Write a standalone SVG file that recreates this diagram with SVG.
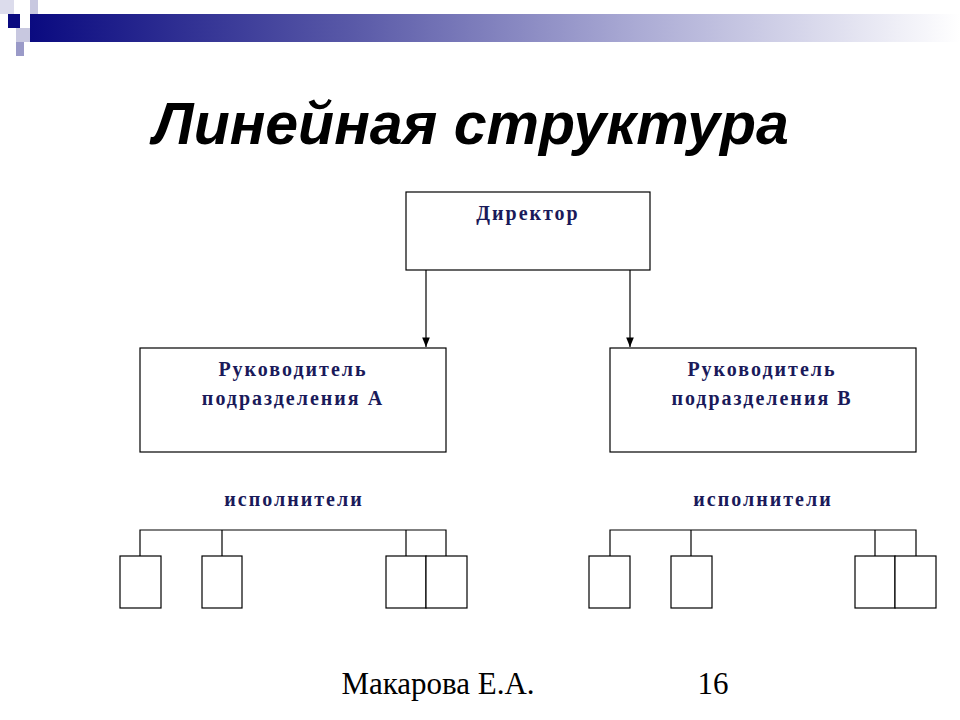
<svg xmlns="http://www.w3.org/2000/svg" width="960" height="720" viewBox="0 0 960 720">
<defs>
<linearGradient id="g" x1="0" x2="1" y1="0" y2="0">
<stop offset="0" stop-color="#0a0a80"/><stop offset="0.35" stop-color="#5a5aa8"/><stop offset="0.65" stop-color="#aaaad4"/><stop offset="1" stop-color="#ffffff"/>
</linearGradient>
<marker id="a" viewBox="0 0 10 10" refX="10" refY="5" markerWidth="8" markerHeight="8" orient="auto"><path d="M0,1 L10,5 L0,9 z" fill="#000"/></marker>
<style>
.b{fill:#fff;stroke:#000;stroke-width:1.2}
.l{fill:none;stroke:#000;stroke-width:1.2}
.t{font-family:"Liberation Serif",serif;font-weight:bold;font-size:20px;letter-spacing:2px;fill:#1a1a5a;text-anchor:middle}
</style>
</defs>
<g id="decor">
<rect x="0" y="0" width="14" height="14" fill="#dcdcec"/>
<rect x="30" y="0" width="8" height="28" fill="#c8c8e0"/>
<rect x="30" y="14" width="930" height="28" fill="url(#g)"/>
<rect x="8" y="14" width="12" height="14" fill="#0a0a80"/>
<rect x="16" y="28" width="14" height="14" fill="#c8c8e0"/>
<rect x="16" y="42" width="8" height="14" fill="#9a9ac8"/>
</g>
<text x="471" y="144" font-family="Liberation Sans,sans-serif" font-weight="bold" font-style="italic" font-size="59" text-anchor="middle" fill="#000">Линейная структура</text>
<g id="director"><rect class="b" x="406" y="192" width="244" height="78"/><text class="t" x="528" y="220">Директор</text></g>
<g id="headA"><rect class="b" x="140" y="348" width="306" height="104"/><text class="t" x="293" y="376">Руководитель</text><text class="t" x="293" y="405">подразделения А</text></g>
<g id="headB"><rect class="b" x="610" y="348" width="306" height="104"/><text class="t" x="762" y="376">Руководитель</text><text class="t" x="762" y="405">подразделения В</text></g>
<g id="labels"><text class="t" x="294" y="506">исполнители</text><text class="t" x="763" y="506">исполнители</text></g>
<g id="execA"><rect class="b" x="120" y="556" width="41" height="52"/><rect class="b" x="202" y="556" width="40" height="52"/><rect class="b" x="386" y="556" width="40" height="52"/><rect class="b" x="426" y="556" width="41" height="52"/></g>
<g id="execB"><rect class="b" x="589" y="556" width="41" height="52"/><rect class="b" x="671" y="556" width="41" height="52"/><rect class="b" x="855" y="556" width="40" height="52"/><rect class="b" x="895" y="556" width="41" height="52"/></g>
<g id="connectors">
<line class="l" x1="426" y1="270" x2="426" y2="347" marker-end="url(#a)"/>
<line class="l" x1="630" y1="270" x2="630" y2="347" marker-end="url(#a)"/>
<path class="l" d="M140,556 V530 H446 V556 M222,530 V556 M406,530 V556"/>
<path class="l" d="M610,556 V530 H916 V556 M691,530 V556 M875,530 V556"/>
</g>
<g id="footer" font-family="Liberation Serif,serif" font-size="31" fill="#000">
<text x="438" y="694" text-anchor="middle">Макарова Е.А.</text>
<text x="713" y="694" text-anchor="middle">16</text>
</g>
</svg>
